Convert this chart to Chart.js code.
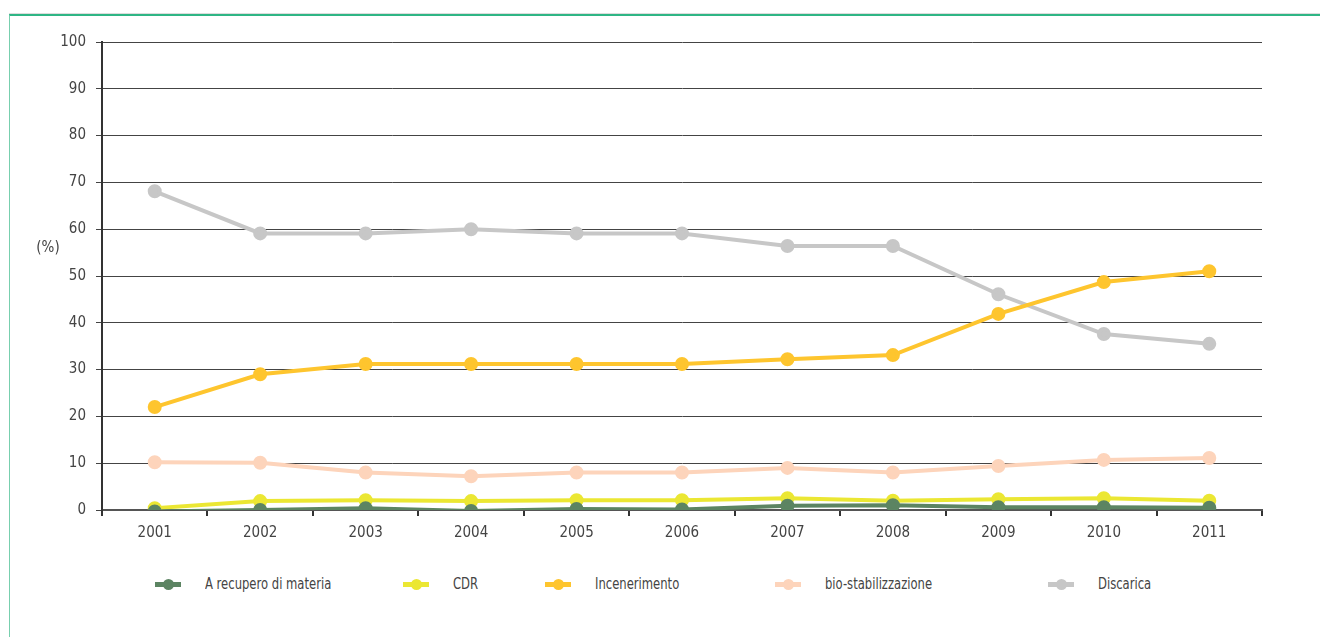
<!DOCTYPE html>
<html>
<head>
<meta charset="utf-8">
<script src="https://cdn.jsdelivr.net/npm/chart.js@4.4.0/dist/chart.umd.min.js"></script>
<style>
  html, body { margin: 0; padding: 0; background: #fff; }
  body { width: 1320px; height: 637px; position: relative; overflow: hidden;
         font-family: 'Liberation Sans Narrow', 'DejaVu Sans Condensed', sans-serif; }
  #frame { position: absolute; left: 9px; top: 14px; width: 1400px; height: 700px;
           border-top: 2px solid #2eb585; border-left: 1px solid #78cfae;
           box-shadow: 0 -1px 0 #dcdcdc; }
  #wrap { position: absolute; left: 0; top: 0; width: 1320px; height: 560px; }
  #legend { position: absolute; top: 572px; left: 0; width: 1320px; height: 24px; }
  .item { position: absolute; top: 0; height: 24px; display: flex; align-items: center;
          font-size: 15px; color: #444; white-space: nowrap; }
  .item .t { display: inline-block; transform: scaleX(0.86); transform-origin: left center; }
  .sw { position: relative; width: 26px; height: 5px; margin-right: 24px; }
  .sw span { position: absolute; left: 8px; top: -3px; width: 11px; height: 11px; border-radius: 50%; }
</style>
</head>
<body>
<div id="frame"></div>
<div id="wrap"><canvas id="c"></canvas></div>
<div id="legend"></div>
<script>
const years = ['2001','2002','2003','2004','2005','2006','2007','2008','2009','2010','2011'];
const recupero = [-0.3, 0.0, 0.4, -0.2, 0.2, 0.1, 0.9, 1.0, 0.6, 0.6, 0.5];
const cdr = [0.4, 1.9, 2.1, 1.9, 2.1, 2.1, 2.5, 2.0, 2.3, 2.5, 2.0];
const incenerimento = [22.0, 29.0, 31.2, 31.2, 31.2, 31.2, 32.2, 33.1, 41.9, 48.7, 51.0];
const bioStab = [10.2, 10.1, 8.0, 7.2, 8.0, 8.0, 9.0, 8.0, 9.4, 10.7, 11.1];
const discarica = [68.1, 59.1, 59.1, 60.0, 59.1, 59.1, 56.4, 56.4, 46.1, 37.6, 35.5];
const seriesNames = ['A recupero di materia', 'CDR', 'Incenerimento', 'bio-stabilizzazione', 'Discarica'];
const yTicks = [0,10,20,30,40,50,60,70,80,90,100];

const colors = ['#5c8462', '#ebe733', '#fec52e', '#fdd4bb', '#c7c7c7'];
const legendLeft = [155, 403, 545, 775, 1048];
const FONT = "'Liberation Sans Narrow', 'DejaVu Sans Condensed', sans-serif";

const values = [recupero, cdr, incenerimento, bioStab, discarica];
const datasets = values.map((v, i) => ({
  label: seriesNames[i], data: v,
  borderColor: colors[i], backgroundColor: colors[i],
  pointBackgroundColor: colors[i], pointBorderColor: colors[i],
  borderWidth: 4, pointRadius: 5, pointHoverRadius: 5, tension: 0
}));

const yLabelPlugin = {
  id: 'yLabel',
  afterDraw(chart) {
    const ctx = chart.ctx;
    ctx.save();
    ctx.font = '15px ' + FONT;
    ctx.fillStyle = '#444';
    ctx.textAlign = 'center';
    ctx.textBaseline = 'middle';
    ctx.fillText('(%)', 48, chart.scales.y.getPixelForValue(56));
    ctx.restore();
  }
};

new Chart(document.getElementById('c'), {
  type: 'line',
  data: { labels: years, datasets },
  options: {
    responsive: true, maintainAspectRatio: false, animation: false,
    layout: { padding: { top: 42, right: 58, left: 0, bottom: 0 } },
    plugins: { legend: { display: false }, tooltip: { enabled: false } },
    scales: {
      x: {
        offset: true,
        grid: { display: true, drawOnChartArea: false, offset: true, color: '#333', lineWidth: 2, tickLength: 6 },
        border: { display: true, color: '#555', width: 2 },
        ticks: { color: '#444', font: { family: FONT, size: 15 }, padding: 8, maxRotation: 0 },
        afterFit(s) { s.height = 50; }
      },
      y: {
        min: 0, max: 100,
        afterBuildTicks(s) { s.ticks = yTicks.map(v => ({ value: v })); },
        grid: { color: '#444', lineWidth: 1, tickLength: 6 },
        border: { display: true, color: '#333', width: 2 },
        ticks: { color: '#444', font: { family: FONT, size: 15 }, padding: 10 },
        afterFit(s) { s.width = 102; }
      }
    }
  },
  plugins: [yLabelPlugin]
});

const lg = document.getElementById('legend');
seriesNames.forEach((n, i) => {
  const it = document.createElement('div');
  it.className = 'item';
  it.style.left = legendLeft[i] + 'px';
  const sw = document.createElement('div');
  sw.className = 'sw';
  sw.style.background = colors[i];
  const dot = document.createElement('span');
  dot.style.background = colors[i];
  sw.appendChild(dot);
  it.appendChild(sw);
  const t = document.createElement('span');
  t.className = 't';
  t.textContent = n;
  it.appendChild(t);
  lg.appendChild(it);
});
</script>
</body>
</html>
